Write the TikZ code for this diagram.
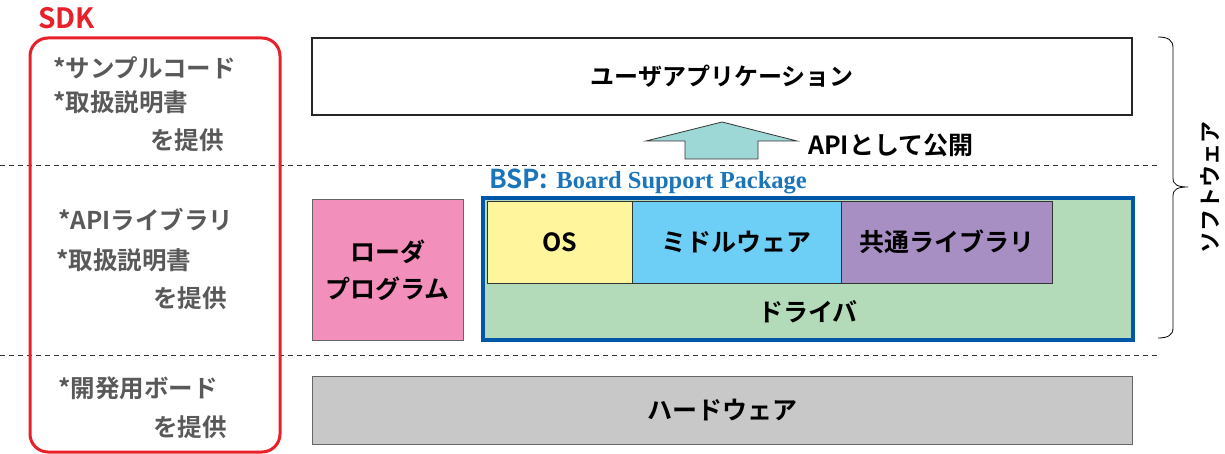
\documentclass[tikz,border=0pt]{standalone}
\usepackage{fontspec}
\setmainfont{Noto Sans CJK JP}[BoldFont={Noto Sans CJK JP Bold}]
\newfontfamily\serifb{Liberation Serif}
\definecolor{sdkred}{HTML}{E8202A}
\definecolor{gray55}{HTML}{595959}
\definecolor{arrowfill}{HTML}{9ED8D6}
\definecolor{bspblue}{HTML}{0057A8}
\definecolor{bsptext}{HTML}{1B75BB}
\definecolor{loaderpink}{HTML}{F290BB}
\definecolor{drvgreen}{HTML}{B4DBB9}
\definecolor{osyellow}{HTML}{FFF59C}
\definecolor{mwblue}{HTML}{6DCFF6}
\definecolor{libpurple}{HTML}{A78EC3}
\definecolor{hwgray}{HTML}{C8C8C8}
\begin{document}
\begin{tikzpicture}[x=1pt,y=-1pt,
  jp/.style={font=\bfseries\fontsize{25}{37}\selectfont, text=black, inner sep=0pt},
  side/.style={font=\bfseries\fontsize{24.5}{28}\selectfont, text=gray55, anchor=west, inner sep=0pt},
  layerbox/.style={draw=black!80, line width=0.8pt, minimum width=#1, inner sep=0pt},
  sep/.style={draw=black!80, dash pattern=on 5pt off 4pt, line width=0.8pt}]
\useasboundingbox (0,0) rectangle (1225,454);

% separators
\draw[sep] (0,165) -- (1160,165);
\draw[sep] (0,355) -- (1160,355);

% SDK
\node[draw=sdkred, line width=3pt, rounded corners=18pt, minimum width=250pt, minimum height=414pt, inner sep=0pt] (sdkbox) at (155,245) {};
\node[font=\bfseries\fontsize{28}{32}\selectfont, text=sdkred, anchor=west, inner sep=0pt] (sdklabel) at (38,18) {SDK};

\node[side] (s1) at (53,68) {*サンプルコード};
\node[side] (s2) at (53,102) {*取扱説明書};
\node[side] (s3) at (150,140) {を提供};
\node[side] (a1) at (58,220) {*APIライブラリ};
\node[side] (a2) at (56,260) {*取扱説明書};
\node[side] (a3) at (153,298) {を提供};
\node[side] (h1) at (58,388) {*開発用ボード};
\node[side] (h2) at (153,427) {を提供};

% user application
\node[draw=black!85, line width=2.5pt, fill=white, minimum width=820pt, minimum height=77pt, inner sep=0pt] (app) at (722,76.5) {};
\node[jp, font=\bfseries\fontsize{24}{28}\selectfont] (applabel) at (app) {ユーザアプリケーション};

% arrow
\coordinate (tip) at (722,122);
\draw[fill=arrowfill, draw=black!80, line width=0.8pt] (tip) -- (797,141) -- (758,141) -- (758,159) -- (685,159) -- (685,141) -- (646,141) -- cycle;
\node[jp, anchor=west] (apilabel) at (808,145) {APIとして公開};

% BSP label
\node[anchor=west, inner sep=0pt, text=bsptext] (bsplabel) at (489,181)
  {{\bfseries\fontsize{26}{28}\selectfont BSP:}\hspace{8pt}{\serifb\bfseries\fontsize{24.5}{28}\selectfont Board Support Package}};

% loader
\node[draw=black!60, line width=1pt, fill=loaderpink, minimum width=151pt, minimum height=140pt, inner sep=0pt] (loader) at (387.5,270) {};
\node[jp, align=center] (loaderlabel) at (loader) {ローダ\\プログラム};

% BSP box
\node[draw=bspblue, line width=3.5pt, fill=drvgreen, minimum width=650pt, minimum height=142pt, inner sep=0pt] (bsp) at (808,269) {};
\node[layerbox=145pt, fill=osyellow, minimum height=82pt] (os) at (559.5,242) {};
\node[layerbox=209pt, fill=mwblue, minimum height=82pt] (mw) at (736.5,242) {};
\node[layerbox=211pt, fill=libpurple, minimum height=82pt] (lib) at (946.5,242) {};
\node[jp] (oslabel) at (os) {OS};
\node[jp] (mwlabel) at (mw) {ミドルウェア};
\node[jp] (liblabel) at (lib) {共通ライブラリ};
\node[jp] (drvlabel) at (808,312) {ドライバ};

% hardware
\node[draw=black!60, line width=1pt, fill=hwgray, minimum width=820pt, minimum height=68pt, inner sep=0pt] (hw) at (722,410) {};
\node[jp] (hwlabel) at (hw) {ハードウェア};

% brace
\draw[line width=0.8pt] (1158,37) .. controls (1168,37) and (1173,40) .. (1173,48) -- (1173,178)
  .. controls (1173,185) and (1178,187) .. (1188,187)
  .. controls (1178,187) and (1173,189) .. (1173,196) -- (1173,328)
  .. controls (1173,335) and (1168,338) .. (1158,338);
\node[jp, font=\bfseries\fontsize{22}{26}\selectfont, rotate=90] (swlabel) at (1210,188) {ソフトウェア};
\end{tikzpicture}
\end{document}
